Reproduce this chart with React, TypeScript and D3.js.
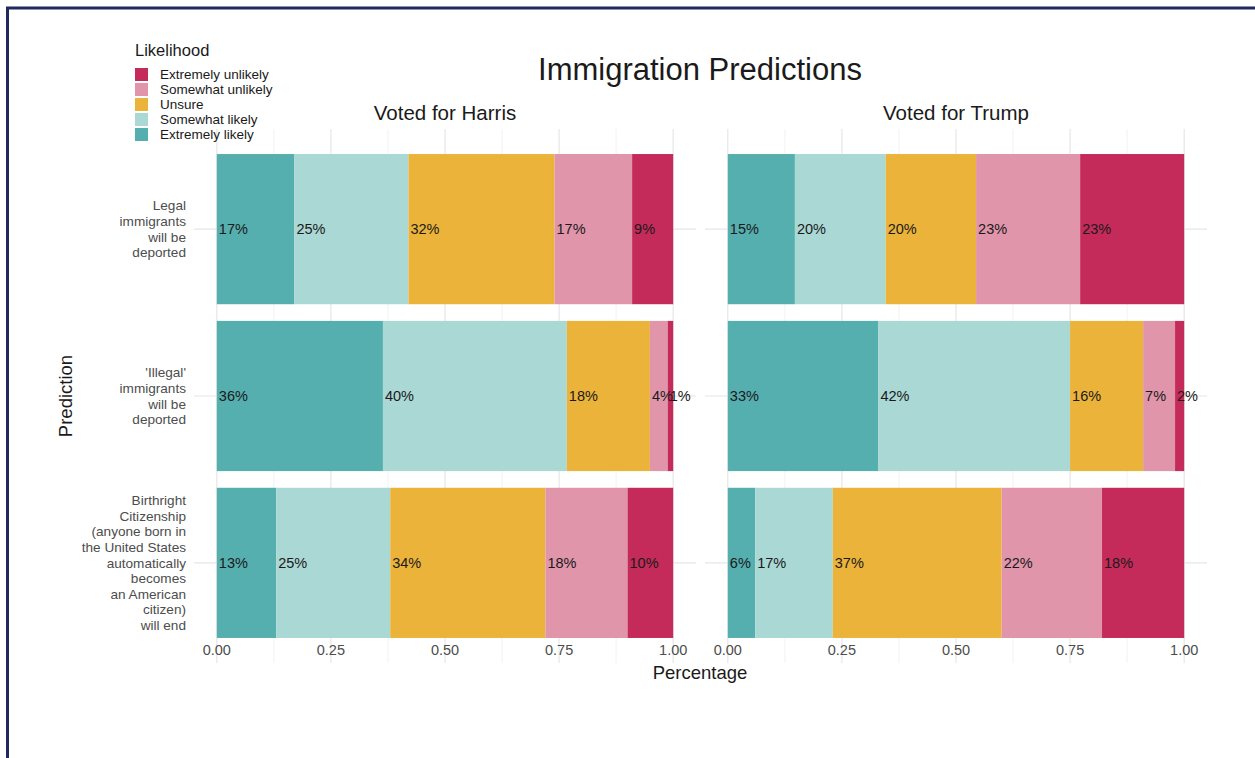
import React from "react";
import * as d3 from "d3";

// categories (top to bottom) and their wrapped labels
const predictions = ["Legal", "Illegal", "Birthright"];
const predictionLabels = [
  ["Legal", "immigrants", "will be", "deported"],
  ["'Illegal'", "immigrants", "will be", "deported"],
  [
    "Birthright",
    "Citizenship",
    "(anyone born in",
    "the United States",
    "automatically",
    "becomes",
    "an American",
    "citizen)",
    "will end",
  ],
];

// stacking order, left to right
const likelihoods = [
  "Extremely likely",
  "Somewhat likely",
  "Unsure",
  "Somewhat unlikely",
  "Extremely unlikely",
];
const likelihoodColors = ["#55afaf", "#aad8d5", "#ebb33a", "#e095aa", "#c42b5a"];

const panels = ["Voted for Harris", "Voted for Trump"];

// shares in percent, one row per prediction, in likelihood order
const harrisValues = [
  [17, 25, 32, 17, 9],
  [36.4, 40.3, 18.2, 3.9, 1.2],
  [13, 25, 34, 18, 10],
];
const trumpValues = [
  [14.7, 19.9, 19.8, 22.8, 22.8],
  [33, 42, 16, 7, 2],
  [6, 17, 37, 22, 18],
];

const xTicks = [0, 0.25, 0.5, 0.75, 1];
const xMinor = [0.125, 0.375, 0.625, 0.875];

const font = "Liberation Sans, Arial, sans-serif";

export default function App() {
  const width = 1255;
  const height = 758;

  const panelTop = 129;
  const panelBottom = 663;
  const panelX = [
    [194, 696],
    [705, 1207],
  ];

  // discrete y with ggplot-like 0.6 expansion
  const y = d3
    .scaleLinear()
    .domain([0.4, 3.6])
    .range([panelTop, panelBottom]);
  const barH = (y(1.45) - y(1)) * 2;

  const legendItems = likelihoods
    .map((l, i) => ({ label: l, color: likelihoodColors[i] }))
    .reverse();

  return (
    <div style={{ position: "absolute", left: 0, top: 0 }}>
      <svg width={width} height={height} style={{ display: "block", background: "#fff" }} fontFamily={font}>
        <rect x={0} y={0} width={width} height={height} fill="#fff" />
        {/* frame */}
        <rect x={7.5} y={8} width={width + 20} height={height + 20} fill="none" stroke="#1f2a5c" strokeWidth={3} />

        {[harrisValues, trumpValues].map((vals, p) => {
          const x = d3
            .scaleLinear()
            .domain([-0.05, 1.05])
            .range(panelX[p]);
          const stack = vals.map((row) => {
            const total = d3.sum(row);
            let acc = 0;
            return row.map((v, i) => {
              const start = acc / total;
              acc += v;
              return { start, end: acc / total, v, i };
            });
          });
          return (
            <g key={p}>
              {/* grid */}
              {xMinor.map((t) => (
                <line key={"m" + t} x1={x(t)} x2={x(t)} y1={panelTop} y2={panelBottom} stroke="#f2f2f2" strokeWidth={1} />
              ))}
              {xTicks.map((t) => (
                <line key={"M" + t} x1={x(t)} x2={x(t)} y1={panelTop} y2={panelBottom} stroke="#e6e6e6" strokeWidth={1.2} />
              ))}
              {predictions.map((c, r) => (
                <line key={c} x1={panelX[p][0]} x2={panelX[p][1]} y1={y(r + 1)} y2={y(r + 1)} stroke="#e6e6e6" strokeWidth={1.2} />
              ))}
              {/* bars */}
              {stack.map((row, r) =>
                row.map((s) => (
                  <rect
                    key={r + "-" + s.i}
                    x={x(s.start)}
                    width={x(s.end) - x(s.start)}
                    y={y(r + 1) - barH / 2}
                    height={barH}
                    fill={likelihoodColors[s.i]}
                  />
                ))
              )}
              {stack.map((row, r) =>
                row.map((s) => (
                  <text
                    key={"t" + r + "-" + s.i}
                    x={x(s.start) + 2}
                    y={y(r + 1)}
                    dy="0.35em"
                    fontSize={14.5}
                    fill="#1a1a1a"
                  >
                    {Math.round(s.v) + "%"}
                  </text>
                ))
              )}
              {/* x tick labels */}
              {xTicks.map((t) => (
                <text key={"l" + t} x={x(t)} y={655} textAnchor="middle" fontSize={14.5} fill="#4d4d4d">
                  {d3.format(".2f")(t)}
                </text>
              ))}
              {/* strip */}
              <text x={(panelX[p][0] + panelX[p][1]) / 2} y={120} textAnchor="middle" fontSize={20.5} fill="#1a1a1a">
                {panels[p]}
              </text>
            </g>
          );
        })}

        {/* y category labels */}
        {predictionLabels.map((lines, r) => {
          const lh = 15.6;
          const top = y(r + 1) - ((lines.length - 1) * lh) / 2;
          return (
            <text key={r} textAnchor="end" fontSize={13.6} fill="#4d4d4d">
              {lines.map((ln, k) => (
                <tspan key={k} x={186} y={top + k * lh} dy="0.35em">
                  {ln}
                </tspan>
              ))}
            </text>
          );
        })}

        {/* axis titles */}
        <text x={700} y={679} textAnchor="middle" fontSize={18.5} fill="#1a1a1a">
          Percentage
        </text>
        <text transform={`translate(72, ${y(2)}) rotate(-90)`} textAnchor="middle" fontSize={18.5} fill="#1a1a1a">
          Prediction
        </text>

        {/* title */}
        <text x={700} y={80} textAnchor="middle" fontSize={31} fill="#1a1a1a">
          Immigration Predictions
        </text>

        {/* legend */}
        <text x={135} y={56} fontSize={16.5} fill="#1a1a1a">
          Likelihood
        </text>
        {legendItems.map((d, i) => (
          <g key={d.label} transform={`translate(135, ${68 + i * 15})`}>
            <rect x={0} y={0} width={13} height={13} fill={d.color} />
            <text x={25} y={6.5} dy="0.35em" fontSize={13.5} fill="#1a1a1a">
              {d.label}
            </text>
          </g>
        ))}
      </svg>
    </div>
  );
}
